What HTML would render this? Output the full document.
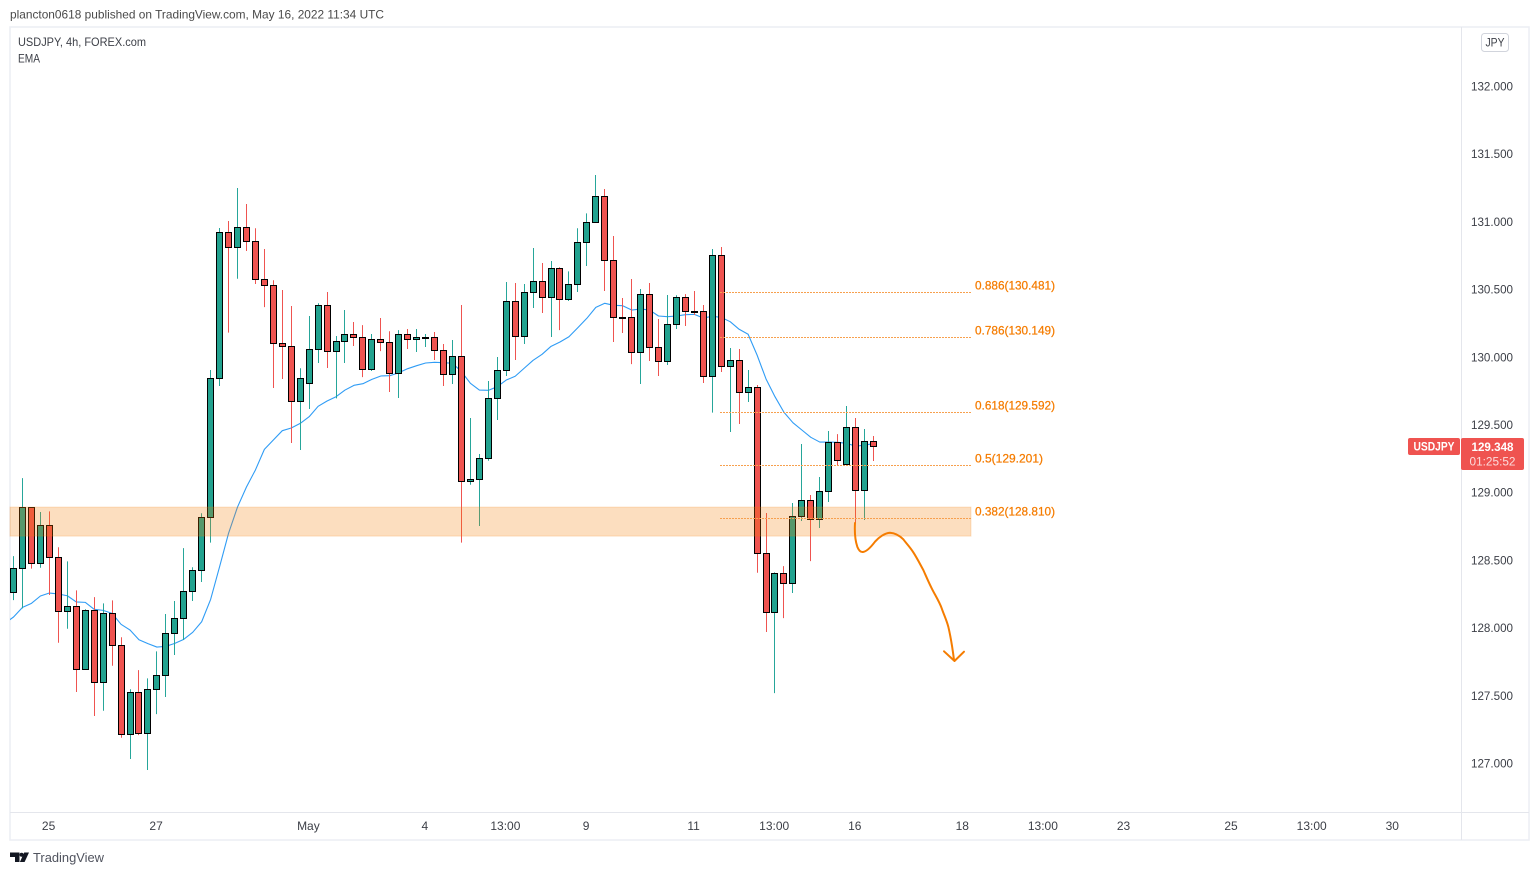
<!DOCTYPE html>
<html lang="en">
<head>
<meta charset="utf-8">
<title>USDJPY 4h chart</title>
<style>
html,body{margin:0;padding:0;background:#fff;width:1539px;height:875px;overflow:hidden}
svg{display:block;font-family:"Liberation Sans",sans-serif}
</style>
</head>
<body>
<svg id="chart" width="1539" height="875" viewBox="0 0 1539 875" xmlns="http://www.w3.org/2000/svg">
  <defs><clipPath id="pane"><rect x="10" y="27" width="1451" height="785"/></clipPath></defs>
  <rect x="0" y="0" width="1539" height="875" fill="#fff"/>
  <text x="10" y="18.5" font-size="12" fill="#4a4a4a" textLength="374" lengthAdjust="spacingAndGlyphs">plancton0618 published on TradingView.com, May 16, 2022 11:34 UTC</text>
  <rect x="10" y="27" width="1519" height="813" fill="none" stroke="#eceef4" stroke-width="1.5"/>
  <line x1="10" y1="812.5" x2="1529" y2="812.5" stroke="#e4e6ec"/>
  <line x1="1461.5" y1="27" x2="1461.5" y2="840" stroke="#e4e6ec"/>
  <g id="emaLayer" clip-path="url(#pane)"></g>
  <g id="candleLayer" clip-path="url(#pane)"></g>
  <g id="zoneLayer"></g>
  <g id="fibLayer"></g>
  <path d="M855 523 C854.6 530 855 540 857.3 546.7 C859 551 861 552.3 863 552 C867 551.5 871 547 875 541.7 C879 537 885 533 890 532.7 C895 533 900 536 903.3 539.3 C906 543 910 547 913.3 552.3 C917 558 920 564 923.3 570 C926 576 928.5 582 931.7 588.3 C935 595 939 601 941.7 608.3 C944 615 946.5 620 948.3 626.7 C950.5 636 952.5 648 954 660" fill="none" stroke="#f57c00" stroke-width="2" stroke-linecap="round"/>
  <path d="M944 651.3 L954.5 661 L964 651.7" fill="none" stroke="#f57c00" stroke-width="2" stroke-linecap="round" stroke-linejoin="round"/>
  <text x="18" y="46" font-size="12" fill="#3c3f47" textLength="128" lengthAdjust="spacingAndGlyphs">USDJPY, 4h, FOREX.com</text>
  <text x="18" y="62.5" font-size="12" fill="#3c3f47" textLength="22" lengthAdjust="spacingAndGlyphs">EMA</text>
  <rect x="1481.5" y="33.5" width="27" height="18" rx="3" fill="#fff" stroke="#d1d4dc"/>
  <text x="1495" y="46.5" font-size="12" fill="#3c3f47" text-anchor="middle" textLength="19" lengthAdjust="spacingAndGlyphs">JPY</text>
  <g id="yTickLayer"></g>
  <g id="xTickLayer"></g>
  <g id="priceTagLayer"></g>
  <g>
    <path d="M10 852.5 H19.5 V862 H15 V857 H10 Z" fill="#131722"/>
    <circle cx="21.6" cy="854.7" r="2" fill="#131722"/>
    <path d="M29 852.5 L24.6 862 H19.9 L24.2 852.5 Z" fill="#131722"/>
    <text x="33" y="862" font-size="13" fill="#50535e" textLength="71" lengthAdjust="spacingAndGlyphs">TradingView</text>
  </g>
</svg>
<script>
var opens=[128.264,128.441,128.892,128.478,128.759,128.523,128.124,128.161,127.695,128.131,127.599,128.109,127.873,127.215,127.526,127.223,127.548,127.651,127.961,128.072,128.272,128.427,128.818,129.845,130.923,130.812,130.960,130.857,130.576,130.532,130.103,130.081,129.675,129.808,130.059,130.384,130.044,130.118,130.170,130.148,129.911,130.133,130.111,129.882,130.170,130.133,130.146,130.148,130.052,129.874,130.007,129.084,129.099,129.254,129.697,129.904,130.413,130.155,130.480,130.561,130.443,130.657,130.428,130.539,130.849,130.997,131.189,130.716,130.295,130.295,130.037,130.465,130.074,129.970,130.244,130.443,130.340,130.340,129.860,130.753,129.933,129.978,129.741,129.778,128.552,128.116,128.405,128.331,128.826,128.944,128.803,129.010,129.372,129.210,129.483,129.018,129.379];
var highs=[128.532,129.108,128.892,128.857,128.862,128.597,128.493,128.279,128.139,128.229,128.183,128.205,127.932,127.548,127.690,127.629,127.828,128.104,128.200,128.591,128.449,128.848,129.906,130.955,131.007,131.250,131.132,130.953,130.800,130.569,130.497,130.379,129.919,130.305,130.399,130.482,130.157,130.349,130.261,130.238,130.172,130.290,130.192,130.201,130.209,130.209,130.172,130.187,130.098,130.128,130.386,129.552,129.286,129.825,130.002,130.556,130.549,130.541,130.807,130.696,130.711,130.665,130.635,130.953,131.063,131.346,131.243,130.896,130.438,130.578,130.504,130.549,130.283,130.460,130.458,130.467,130.490,130.386,130.800,130.815,130.069,130.061,129.906,129.795,128.850,128.412,128.458,128.924,129.360,128.983,129.116,129.456,129.433,129.640,129.552,129.470,129.419];
var lows=[128.207,128.146,128.439,128.446,128.244,127.892,127.995,127.528,127.695,127.351,127.390,127.722,127.190,127.033,127.210,126.952,127.365,127.491,127.801,127.912,128.200,128.340,128.631,129.788,130.182,130.580,130.785,130.541,130.371,129.773,129.840,129.367,129.315,129.618,129.958,129.921,129.697,129.958,130.083,129.854,129.899,130.046,129.744,129.699,130.061,130.039,130.076,129.980,129.788,129.803,128.631,129.059,128.754,129.236,129.537,129.862,129.980,130.098,130.364,130.327,130.150,130.201,130.416,130.482,130.674,130.997,130.490,130.113,130.179,129.950,129.803,129.973,129.862,129.943,130.209,130.231,130.312,129.810,129.591,129.891,129.448,129.507,129.670,128.409,127.971,127.520,128.074,128.259,128.791,128.495,128.739,128.931,129.204,129.210,128.776,128.798,129.234];
var closes=[128.441,128.892,128.478,128.759,128.523,128.124,128.161,127.695,128.131,127.599,128.109,127.873,127.215,127.526,127.223,127.548,127.651,127.961,128.072,128.272,128.427,128.818,129.845,130.923,130.812,130.960,130.857,130.576,130.532,130.103,130.081,129.675,129.845,130.059,130.384,130.044,130.118,130.170,130.148,129.911,130.133,130.111,129.882,130.170,130.133,130.148,130.148,130.052,129.874,130.007,129.084,129.099,129.254,129.697,129.904,130.413,130.155,130.480,130.561,130.443,130.657,130.428,130.539,130.849,130.997,131.189,130.716,130.295,130.293,130.037,130.465,130.074,129.970,130.244,130.443,130.340,130.338,129.860,130.753,129.933,129.978,129.741,129.778,128.552,128.116,128.405,128.331,128.826,128.944,128.803,129.010,129.372,129.239,129.483,129.018,129.379,129.348];
var emaValues=[128.034,128.082,128.153,128.183,128.237,128.259,128.252,128.239,128.193,128.190,128.139,128.131,128.109,128.028,127.986,127.914,127.885,127.860,127.865,127.887,127.917,127.969,128.047,128.212,128.453,128.700,128.894,129.042,129.168,129.320,129.389,129.458,129.478,129.512,129.561,129.638,129.677,129.709,129.758,129.793,129.805,129.837,129.862,129.864,129.886,129.916,129.938,129.958,129.963,129.960,129.956,129.894,129.808,129.758,129.756,129.783,129.832,129.860,129.919,129.978,130.022,130.081,130.113,130.152,130.219,130.288,130.369,130.399,130.384,130.381,130.349,130.357,130.349,130.305,130.300,130.305,130.315,130.317,130.290,130.303,130.295,130.263,130.207,130.170,130.017,129.840,129.709,129.594,129.517,129.463,129.409,129.374,129.374,129.372,129.365,129.343,129.352,129.362];
var yTicks=[132,131.5,131,130.5,130,129.5,129,128.5,128,127.5,127];
var xTickLabels=["25","27","May","4","13:00","9","11","13:00","16","18","13:00","23","25","13:00","30"];
var xTickBars=[4,16,33,46,55,64,76,85,94,106,115,124,136,145,154];
var fibRatios=["0.886","0.786","0.618","0.5","0.382"];
var fibPrices=[130.481,130.149,129.592,129.201,128.810];
var zoneTop=128.894;
var zoneBottom=128.680;
var lastPrice=129.348;
var countdown="01:25:52";

var NS="http://www.w3.org/2000/svg";
function yOf(p){return 86.5+(132-p)*135.4;}
function xOf(i){return 13.55+8.958*i;}
function make(tag,parent,attrs){
  var el=document.createElementNS(NS,tag);
  for(var k in attrs){el.setAttribute(k,attrs[k]);}
  parent.appendChild(el);
  return el;
}
var emaLayer=document.getElementById('emaLayer');
var candleLayer=document.getElementById('candleLayer');
var zoneLayer=document.getElementById('zoneLayer');
var fibLayer=document.getElementById('fibLayer');
var yTickLayer=document.getElementById('yTickLayer');
var xTickLayer=document.getElementById('xTickLayer');
var priceTagLayer=document.getElementById('priceTagLayer');

var emaPts=emaValues.map(function(v,j){return xOf(j-1).toFixed(2)+','+yOf(v).toFixed(2);}).join(' ');
var emaLine=make('polyline',emaLayer,{points:emaPts,fill:'none',stroke:'#2f9cf5','stroke-width':1.1,'stroke-linejoin':'round'});



opens.forEach(function(o,i){
  var c=closes[i];
  var up=c>=o;
  var col=up?'#26a69a':'#ef5350';
  var fill=up?'#22a28f':'#ef5350';
  var cx=Math.floor(xOf(i))+0.5;
  var g=make('g',candleLayer,{});
  
  
  var wick=make('line',g,{x1:cx,x2:cx,y1:yOf(highs[i]).toFixed(2),y2:yOf(lows[i]).toFixed(2),stroke:col,'stroke-width':1});
  
  
  var top=Math.round(yOf(Math.max(o,c)))+0.5;
  var bot=Math.round(yOf(Math.min(o,c)))+0.5;
  var body=make('path',g,{d:'M'+(cx-3)+' '+top+'H'+(cx+3)+'V'+bot+'H'+(cx-3)+'Z',fill:fill,stroke:'#000','stroke-width':1});
  
  
});

var zone=make('rect',zoneLayer,{x:10,width:961,y:yOf(zoneTop).toFixed(1),height:(yOf(zoneBottom)-yOf(zoneTop)).toFixed(1),fill:'rgba(245,124,0,0.25)',stroke:'rgba(245,124,0,0.2)','stroke-width':1});



fibRatios.forEach(function(r,i){
  var y=Math.floor(yOf(fibPrices[i]))+0.5;
  var ln=make('line',fibLayer,{x1:720,x2:971,y1:y,y2:y,stroke:'#f7a04e','stroke-width':1,'stroke-dasharray':'2 1'});
  
  
  var t=make('text',fibLayer,{x:975,y:y-3.2,'font-size':12,fill:'#f57c00','font-weight':'normal',stroke:'#f57c00','stroke-width':0.25,textLength:(r.length===5?80:68),lengthAdjust:'spacingAndGlyphs'});
  t.textContent=r+'('+fibPrices[i].toFixed(3)+')';
  
  
});

yTicks.forEach(function(p){
  var t=make('text',yTickLayer,{x:1471,y:(yOf(p)+4).toFixed(1),'font-size':12,fill:'#3c3f47',textLength:42,lengthAdjust:'spacingAndGlyphs'});
  t.textContent=p.toFixed(3);
  
  
});

xTickLabels.forEach(function(lbl,i){
  var t=make('text',xTickLayer,{x:(xOf(xTickBars[i])-0.8).toFixed(1),y:830,'font-size':12,fill:'#3c3f47','text-anchor':'middle'});
  t.textContent=lbl;
  
  
});

var tagY=Math.round(yOf(lastPrice));
var nameTag=make('rect',priceTagLayer,{x:1408,y:tagY-8,width:52,height:17,rx:2,fill:'#ef5350'});


var nameText=make('text',priceTagLayer,{x:1434,y:tagY+4.5,'font-size':12,fill:'#fff','font-weight':'bold','text-anchor':'middle',textLength:41,lengthAdjust:'spacingAndGlyphs'});
nameText.textContent='USDJPY';


var priceBox=make('rect',priceTagLayer,{x:1461,y:tagY-8,width:63,height:32,rx:2,fill:'#ef5350'});


var priceText=make('text',priceTagLayer,{x:1492.5,y:tagY+5,'font-size':12,fill:'#fff','font-weight':'bold','text-anchor':'middle',textLength:42,lengthAdjust:'spacingAndGlyphs'});
priceText.textContent=lastPrice.toFixed(3);


var cdText=make('text',priceTagLayer,{x:1492.5,y:tagY+19.5,'font-size':12,fill:'#fbdcdc','text-anchor':'middle',textLength:46,lengthAdjust:'spacingAndGlyphs'});
cdText.textContent=countdown;


</script>
</body>
</html>
